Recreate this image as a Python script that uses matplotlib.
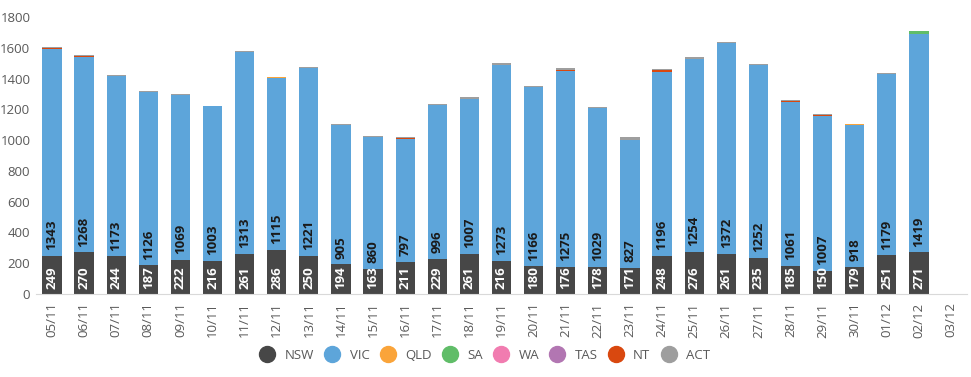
import matplotlib
matplotlib.use("Agg")
import matplotlib.pyplot as plt
from matplotlib.lines import Line2D
import numpy as np

plt.rcParams['font.family'] = ['Open Sans', 'DejaVu Sans']

dates = ["05/11", "06/11", "07/11", "08/11", "09/11", "10/11", "11/11", "12/11", "13/11",
         "14/11", "15/11", "16/11", "17/11", "18/11", "19/11", "20/11", "21/11", "22/11",
         "23/11", "24/11", "25/11", "26/11", "27/11", "28/11", "29/11", "30/11", "01/12",
         "02/12", "03/12"]

nsw = [249, 270, 244, 187, 222, 216, 261, 286, 250, 194, 163, 211, 229, 261, 216, 180,
       176, 178, 171, 248, 276, 261, 235, 185, 150, 179, 251, 271, 0]
vic = [1343, 1268, 1173, 1126, 1069, 1003, 1313, 1115, 1221, 905, 860, 797, 996, 1007,
       1273, 1166, 1275, 1029, 827, 1196, 1254, 1372, 1252, 1061, 1007, 918, 1179, 1419, 0]
qld = [0, 0, 0, 0, 0, 0, 0, 6, 0, 0, 0, 0, 0, 0, 0, 0, 0, 0, 0, 0, 0, 0, 0, 0, 0, 5, 0, 0, 0]
sa = [0, 0, 0, 0, 0, 0, 0, 0, 0, 0, 0, 0, 0, 0, 0, 0, 0, 0, 0, 0, 0, 0, 0, 0, 0, 0, 0, 20, 0]
wa = [0] * 29
tas = [0] * 29
nt = [6, 6, 0, 0, 0, 0, 0, 0, 0, 0, 0, 5, 6, 0, 0, 0, 6, 0, 5, 12, 0, 0, 0, 6, 6, 0, 0, 0, 0]
act = [5, 12, 9, 9, 10, 5, 3, 6, 5, 6, 5, 8, 2, 14, 10, 7, 10, 6, 15, 8, 7, 3, 10, 6, 6, 0, 3, 0, 0]

states = ["NSW", "VIC", "QLD", "SA", "WA", "TAS", "NT", "ACT"]
series = [nsw, vic, qld, sa, wa, tas, nt, act]
colors = ["#474747", "#5DA5DA", "#FAA43A", "#60BD68", "#F17CB0", "#B276B2", "#D9480F", "#9E9E9E"]

fig = plt.figure(figsize=(9.71, 3.77), dpi=100)
ax = fig.add_axes([0.037, 0.22, 0.959, 0.735])

x = np.arange(len(dates))
bottom = np.zeros(len(dates))
for name, vals, col in zip(states, series, colors):
    vals = np.array(vals, dtype=float)
    ax.bar(x, vals, 0.6, bottom=bottom, color=col, label=name, zorder=2)
    if name in ("NSW", "VIC"):
        tcol = "white" if name == "NSW" else "#1a1a1a"
        for xi, v, b in zip(x, vals, bottom):
            if v > 0:
                ax.annotate(str(int(v)), (xi, b), xytext=(0, 4), textcoords="offset points",
                            rotation=90, ha="center", va="bottom", fontsize=9.5,
                            fontweight="bold", color=tcol)
    bottom += vals

ax.set_xlim(-0.5, len(dates) - 0.5)
ax.set_ylim(0, 1800)
ax.set_yticks(range(0, 1801, 200))
ax.set_xticks(x)
ax.set_xticklabels(dates, rotation=90)
ax.tick_params(axis="both", length=0, colors="#595959", labelsize=9.5)
ax.tick_params(axis="x", pad=6)
ax.tick_params(axis="y", pad=4)
for s in ("top", "right", "left"):
    ax.spines[s].set_visible(False)
ax.spines["bottom"].set_color("#D9D9D9")

handles = [Line2D([], [], marker="o", linestyle="", markersize=11.5, markerfacecolor=c,
                  markeredgecolor=c) for c in colors]
fig.legend(handles, states, loc="center", bbox_to_anchor=(0.5, 0.058), ncol=8,
           frameon=False, fontsize=9.5, labelcolor="#595959", handlelength=1.0,
           handletextpad=0.8, columnspacing=0.9)

fig.savefig("out.png", dpi=100)
